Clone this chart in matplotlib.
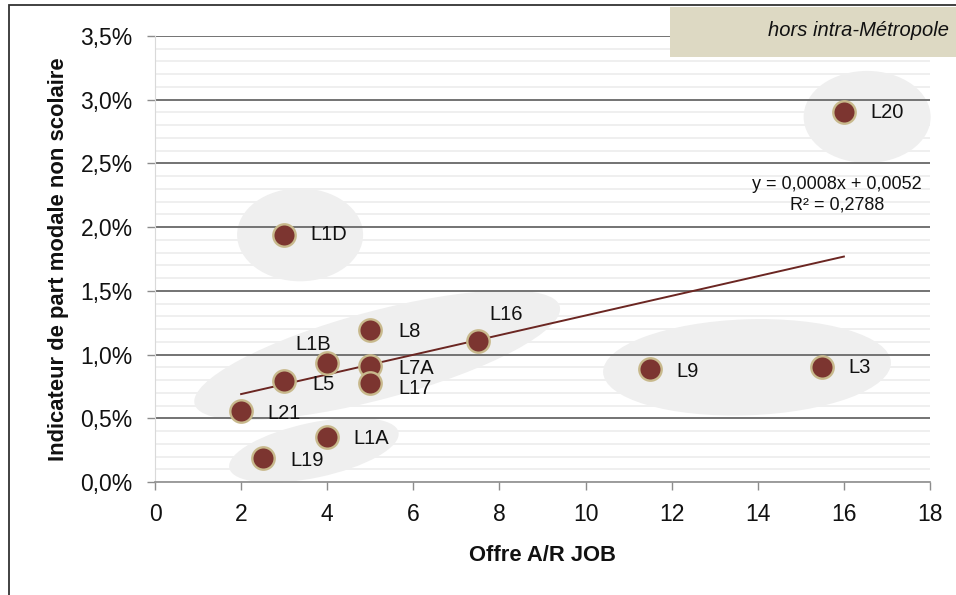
import matplotlib.pyplot as plt
import numpy as np
from matplotlib.patches import Ellipse, Rectangle
from matplotlib.transforms import IdentityTransform
from matplotlib.ticker import FuncFormatter, MultipleLocator

plt.rcParams["font.family"] = ["Liberation Sans", "DejaVu Sans"]

# data
lines = ["L21", "L19", "L1A", "L5", "L1B", "L7A", "L17", "L8", "L16", "L9", "L3", "L20", "L1D"]
offre = [2, 2.5, 4, 3, 4, 5, 5, 5, 7.5, 11.5, 15.5, 16, 3]
part_modale = [0.0056, 0.0019, 0.0035, 0.0079, 0.0093, 0.0091, 0.0078, 0.0119, 0.0111,
               0.0089, 0.0090, 0.0290, 0.0194]
equation = "y = 0,0008x + 0,0052\nR² = 0,2788"

# label placement (offset in points, horizontal alignment)
label_offsets = {
    "L21": (19, -2, "left"), "L19": (20, -2, "left"), "L1A": (19, -1, "left"),
    "L5": (20, -2, "left"), "L1B": (-10, 14, "center"), "L7A": (20, -2, "left"),
    "L17": (20, -4, "left"), "L8": (20, -1, "left"), "L16": (20, 19, "center"),
    "L9": (19, -2, "left"), "L3": (19, 0, "left"), "L20": (19, 0, "left"),
    "L1D": (19, 0, "left"),
}
# grey groupings: centre in data units, size in pixels, angle in degrees
groups = [
    (16.54, 0.02865, 127, 92, 0),
    (3.37, 0.0194, 126, 93, 0),
    (5.16, 0.00995, 378, 88, 15),
    (3.69, 0.0025, 173, 55, 12),
    (13.75, 0.0090, 288, 96, 2),
]

INK = "#111111"
RED = "#7c3530"
EDGE = "#c8b98c"

fig = plt.figure(figsize=(9.56, 5.95), dpi=100)
fig.patch.set_facecolor("white")
ax = fig.add_axes([155 / 956, 113 / 595, 775 / 956, 446 / 595])
ax.set_xlim(0, 18)
ax.set_ylim(0, 0.035)
ax.set_facecolor("white")

ax.xaxis.set_major_locator(MultipleLocator(2))
ax.yaxis.set_major_locator(MultipleLocator(0.005))
ax.yaxis.set_minor_locator(MultipleLocator(0.001))
ax.yaxis.set_major_formatter(FuncFormatter(lambda v, p: f"{v * 100:.1f}%".replace(".", ",")))

# grid drawn by hand so the grey blobs sit between minor and major lines
for v in np.arange(0, 0.0351, 0.001):
    ax.axhline(v, color="#ebebeb", lw=1.1, zorder=0.5)
for v in np.arange(0.005, 0.0351, 0.005):
    ax.axhline(v, color="#6a6a6a", lw=1.3, zorder=1.5)

for cx, cy, w, h, ang in groups:
    px, py = ax.transData.transform((cx, cy))
    ax.add_patch(Ellipse((px, py), w, h, angle=ang, transform=IdentityTransform(),
                         facecolor="#efefef", edgecolor="none", zorder=1, clip_on=False))

slope, intercept = np.polyfit(offre, part_modale, 1)
xs = np.array([min(offre), max(offre)])
ax.plot(xs, slope * xs + intercept, color="#6b2622", lw=1.4, zorder=2)

ax.scatter(offre, part_modale, s=260, color=RED, edgecolor=EDGE, linewidth=1.7, zorder=3)
for name, x, y in zip(lines, offre, part_modale):
    dx, dy, ha = label_offsets[name]
    ax.annotate(name, (x, y), xytext=(dx, dy), textcoords="offset points",
                ha=ha, va="center", fontsize=14.5, color=INK, zorder=4)

ax.text(15.84, 0.02253, equation, ha="center", va="center", fontsize=13,
        color=INK, linespacing=1.3, zorder=4)

for side in ["top", "right"]:
    ax.spines[side].set_visible(False)
ax.spines["left"].set_color("#d9d9d9")
ax.spines["bottom"].set_color("#8c8c8c")
ax.spines["bottom"].set_linewidth(1.2)
ax.tick_params(axis="both", which="major", length=6, width=1, color="#8c8c8c",
               labelsize=16.5, labelcolor=INK)
ax.tick_params(axis="y", which="minor", length=0)
ax.tick_params(axis="x", pad=9)
ax.tick_params(axis="y", pad=10)

ax.set_xlabel("Offre A/R JOB", fontsize=15.8, fontweight="bold", color=INK, labelpad=14)
ax.set_ylabel("Indicateur de part modale non scolaire", fontsize=15.8, fontweight="bold",
              color=INK, labelpad=8)

# outer frame and corner tag
fig.add_artist(Rectangle((9 / 956, -0.5), 2, 1.5 - 5 / 595, transform=fig.transFigure,
                         fill=False, edgecolor="#333333", lw=1.3, zorder=5))
fig.add_artist(Rectangle((670 / 956, 1 - 57 / 595), 0.5, 50 / 595, transform=fig.transFigure,
                         facecolor="#ddd9c3", edgecolor="none", zorder=5))
fig.text(949 / 956, 1 - 31 / 595, "hors intra-Métropole", ha="right", va="center",
         fontsize=14.5, style="italic", color=INK, zorder=6)

fig.savefig("out.png", dpi=100, facecolor="white")
